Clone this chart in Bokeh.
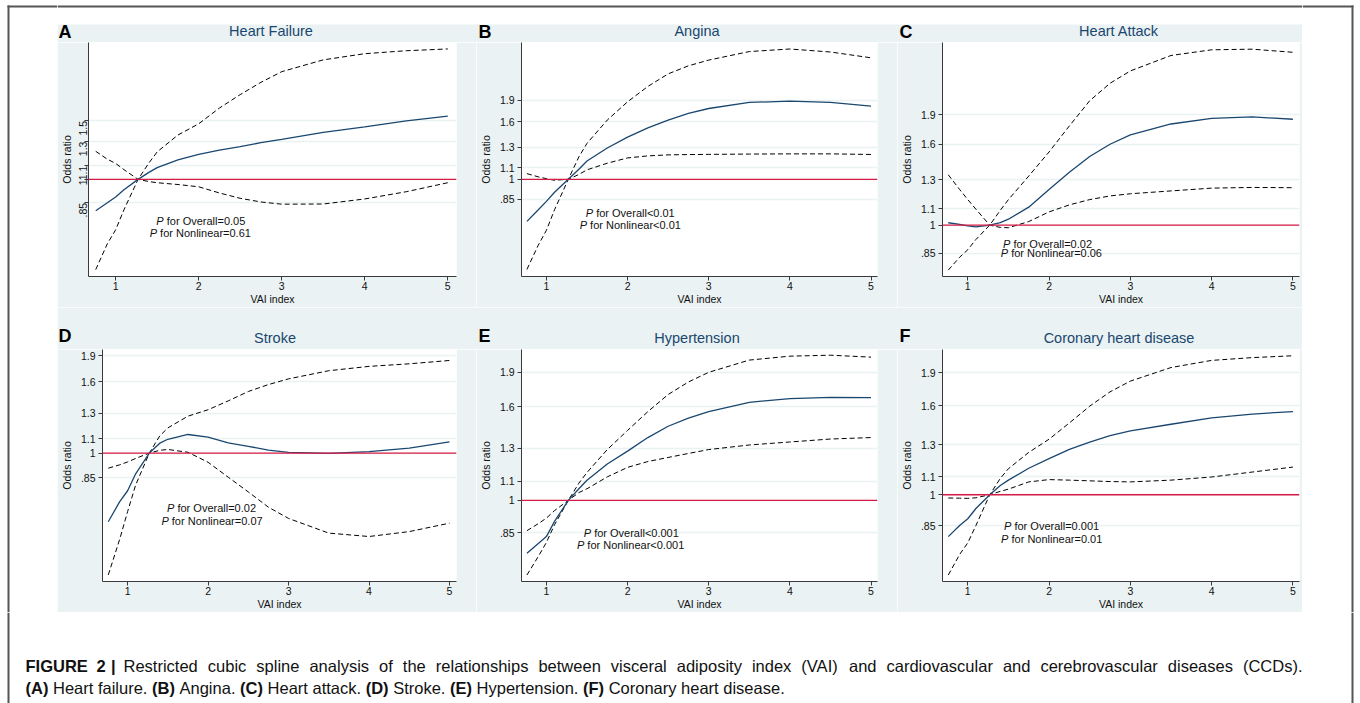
import math
from bokeh.plotting import figure
from bokeh.models import Range1d, FixedTicker, Span, Label, BoxAnnotation
from bokeh.layouts import row, column
from bokeh.embed import file_html
from bokeh.resources import INLINE
from bokeh.core.properties import value

# ---------------- data ----------------
vai = [0.76, 0.9, 1.0, 1.1, 1.27, 1.4, 1.5, 1.75, 2.0, 2.25, 2.5, 2.75, 3.0, 3.5, 4.0, 4.5, 5.0]

hf_or = [0.805, 0.85, 0.885, 0.93, 1.0, 1.05, 1.085, 1.145, 1.19, 1.225, 1.255, 1.29, 1.32, 1.385, 1.44, 1.50, 1.55]
hf_ci1 = [1.215, 1.15, 1.117, 1.07, 1.0, 0.985, 0.977, 0.965, 0.95, 0.91, 0.877, 0.855, 0.842, 0.843, 0.873, 0.918, 0.977]
hf_ci2 = [0.535, 0.64, 0.705, 0.81, 1.0, 1.12, 1.21, 1.36, 1.47, 1.64, 1.80, 1.96, 2.11, 2.29, 2.39, 2.44, 2.47]

an_or = [0.71, 0.78, 0.835, 0.9, 1.0, 1.085, 1.16, 1.29, 1.41, 1.52, 1.62, 1.71, 1.78, 1.87, 1.89, 1.87, 1.815]
an_ci1 = [1.047, 1.02, 1.005, 0.992, 1.0, 1.04, 1.08, 1.14, 1.19, 1.21, 1.22, 1.223, 1.225, 1.228, 1.23, 1.23, 1.224]
an_ci2 = [0.48, 0.585, 0.66, 0.78, 1.0, 1.20, 1.34, 1.62, 1.88, 2.13, 2.36, 2.52, 2.64, 2.83, 2.89, 2.82, 2.69]

ha_or = [1.014, 1.004, 0.996, 0.99, 1.0, 1.015, 1.035, 1.11, 1.23, 1.36, 1.49, 1.60, 1.69, 1.80, 1.86, 1.875, 1.85]
ha_ci1 = [1.34, 1.23, 1.16, 1.097, 1.0, 0.987, 0.985, 1.021, 1.08, 1.125, 1.16, 1.185, 1.20, 1.22, 1.24, 1.245, 1.243]
ha_ci2 = [0.77, 0.83, 0.867, 0.92, 1.0, 1.09, 1.16, 1.33, 1.53, 1.78, 2.06, 2.28, 2.45, 2.68, 2.77, 2.78, 2.73]

st_or = [0.636, 0.725, 0.78, 0.872, 1.0, 1.067, 1.095, 1.13, 1.11, 1.07, 1.045, 1.02, 1.004, 0.998, 1.009, 1.033, 1.077]
st_ci1 = [0.905, 0.925, 0.943, 0.965, 1.0, 1.018, 1.024, 1.005, 0.941, 0.853, 0.774, 0.70, 0.65, 0.59, 0.577, 0.596, 0.63]
st_ci2 = [0.448, 0.565, 0.68, 0.81, 1.0, 1.12, 1.18, 1.275, 1.33, 1.41, 1.50, 1.57, 1.63, 1.72, 1.77, 1.80, 1.84]

hy_or = [0.767, 0.806, 0.834, 0.9, 1.0, 1.06, 1.106, 1.20, 1.28, 1.37, 1.45, 1.51, 1.56, 1.635, 1.665, 1.676, 1.673]
hy_ci1 = [0.859, 0.89, 0.915, 0.95, 1.0, 1.04, 1.06, 1.125, 1.18, 1.215, 1.24, 1.265, 1.29, 1.32, 1.34, 1.36, 1.37]
hy_ci2 = [0.688, 0.755, 0.81, 0.885, 1.0, 1.09, 1.15, 1.29, 1.42, 1.56, 1.70, 1.81, 1.90, 2.02, 2.06, 2.07, 2.05]

ch_or = [0.802, 0.85, 0.881, 0.93, 1.0, 1.05, 1.08, 1.15, 1.21, 1.27, 1.32, 1.365, 1.40, 1.45, 1.50, 1.53, 1.55]
ch_ci1 = [0.983, 0.982, 0.981, 0.984, 1.0, 1.018, 1.03, 1.07, 1.083, 1.08, 1.076, 1.072, 1.07, 1.08, 1.098, 1.127, 1.157]
ch_ci2 = [0.655, 0.73, 0.776, 0.85, 1.0, 1.09, 1.147, 1.25, 1.34, 1.46, 1.595, 1.72, 1.82, 1.955, 2.03, 2.06, 2.08]

x_ticks = [1, 2, 3, 4, 5]
y_ticks_a = [0.85, 1, 1.1, 1.3, 1.5]
y_labels_a = [".85", "1", "1.1", "1.3", "1.5"]
y_ticks = [0.85, 1, 1.1, 1.3, 1.6, 1.9]
y_labels = [".85", "1", "1.1", "1.3", "1.6", "1.9"]

titles = ["Heart Failure", "Angina", "Heart Attack", "Stroke", "Hypertension", "Coronary heart disease"]
letters = ["A", "B", "C", "D", "E", "F"]
p_overall = ["=0.05", "<0.01", "=0.02", "=0.02", "<0.001", "=0.001"]
p_nonlin = ["=0.61", "<0.01", "=0.06", "=0.07", "<0.001", "=0.01"]

caption_head = ["FIGURE", "2", "|"]
caption_line1 = "Restricted cubic spline analysis of the relationships between visceral adiposity index (VAI) and cardiovascular and cerebrovascular diseases (CCDs)."
caption_line2 = ["(A)", "Heart failure.", "(B)", "Angina.", "(C)", "Heart attack.", "(D)", "Stroke.",
                 "(E)", "Hypertension.", "(F)", "Coronary heart disease."]

# ---------------- style / geometry ----------------
BG = "#EAF2F3"
NAVY = "#1A476F"
RED = "#D81B45"
FONT = "Liberation Sans"
AXC = "#3a3a3a"
EDGE = "#555555"
PAGE_W = 1360

series = [(hf_or, hf_ci1, hf_ci2), (an_or, an_ci1, an_ci2), (ha_or, ha_ci1, ha_ci2),
          (st_or, st_ci1, st_ci2), (hy_or, hy_ci1, hy_ci2), (ch_or, ch_ci1, ch_ci2)]

GRID_X0 = 57
GRID_W = 1245
FRAME_H = 235
col_w = [419, 421, 405]
col_x0 = [0, 419, 840]
geo = [
    dict(l=28, r=20, b=30, xr=(0.673, 5.105), yr=(0.51, 2.583)),
    dict(l=40, r=20, b=30, xr=(0.693, 5.08), yr=(0.453, 3.047)),
    dict(l=41, r=3, b=30, xr=(0.689, 5.081), yr=(0.742, 2.89)),
    dict(l=36, r=20, b=28, xr=(0.688, 5.087), yr=(0.429, 1.978)),
    dict(l=40, r=20, b=28, xr=(0.693, 5.08), yr=(0.666, 2.13)),
    dict(l=41, r=3, b=28, xr=(0.689, 5.081), yr=(0.633, 2.15)),
]
letter_x = [1, 421, 842]
ptext_pos = [((1.49, 0.75), (1.41, 0.689)), ((1.485, 0.76), (1.41, 0.687)),
             ((1.434, 0.898), (1.406, 0.85)), ((1.49, 0.697), (1.42, 0.639)),
             ((1.46, 0.848), (1.376, 0.799)), ((1.446, 0.848), (1.41, 0.791))]

# Arial / Liberation Sans advance widths (1/1000 em) for caption layout
REG_W = {' ': 278, '(': 333, ')': 333, '.': 278, '|': 260, 'A': 667, 'B': 667, 'C': 722, 'D': 722,
         'E': 667, 'F': 611, 'H': 722, 'I': 278, 'R': 722, 'S': 667, 'V': 667, 'a': 556, 'b': 556,
         'c': 500, 'd': 556, 'e': 556, 'f': 278, 'g': 556, 'h': 556, 'i': 222, 'k': 500, 'l': 222,
         'n': 556, 'o': 556, 'p': 556, 'r': 333, 's': 500, 't': 278, 'u': 556, 'v': 500, 'w': 722,
         'x': 500, 'y': 500}
BOLD_W = {' ': 278, '(': 333, ')': 333, '|': 280, '2': 556, 'A': 722, 'B': 722, 'C': 722, 'D': 722,
          'E': 667, 'F': 611, 'G': 778, 'I': 278, 'R': 722, 'U': 722}


def text_w(s, bold, size):
    tab = BOLD_W if bold else REG_W
    return sum(tab.get(ch, 556) for ch in s) * size / 1000.0


def make_panel(i):
    g = geo[i]
    c = i % 3
    p = figure(width=col_w[c], height=FRAME_H + g["b"], x_range=Range1d(*g["xr"]),
               y_range=Range1d(*g["yr"]), y_axis_type="log", output_backend="svg",
               toolbar_location=None, title=None,
               min_border_left=g["l"], min_border_right=g["r"], min_border_top=0,
               min_border_bottom=g["b"])
    p.background_fill_color = "white"
    p.border_fill_color = BG
    p.outline_line_color = None
    p.xgrid.visible = False

    yt = y_ticks_a if i == 0 else y_ticks
    yl = y_labels_a if i == 0 else y_labels
    p.xaxis.ticker = FixedTicker(ticks=x_ticks)
    p.yaxis.ticker = FixedTicker(ticks=yt)
    p.yaxis.major_label_overrides = {t: s for t, s in zip(yt, yl)}
    p.ygrid.grid_line_color = BG
    p.ygrid.grid_line_width = 1.6

    for ax in (p.xaxis, p.yaxis):
        ax.axis_line_color = AXC
        ax.axis_line_width = 1
        ax.major_tick_line_color = AXC
        ax.major_tick_out = 4
        ax.major_tick_in = 0
        ax.minor_tick_line_color = None
        ax.major_label_text_font = FONT
        ax.major_label_text_font_size = "10.5px"
        ax.major_label_text_color = "#111111"
        ax.axis_label_text_font = FONT
        ax.axis_label_text_font_size = "10.5px"
        ax.axis_label_text_font_style = "normal"
        ax.axis_label_text_color = "#111111"
    p.xaxis.axis_label = "VAI index"
    p.xaxis.major_label_standoff = 1
    p.xaxis.axis_label_standoff = 0
    p.yaxis.axis_label = "Odds ratio"
    if i == 0:
        p.yaxis.major_label_orientation = math.pi / 2
        p.yaxis.major_label_standoff = 1
        p.yaxis.axis_label_standoff = 0
    else:
        p.yaxis.major_label_standoff = 3
        p.yaxis.axis_label_standoff = 5

    p.add_layout(Span(location=1, dimension="width", line_color=RED, line_width=1.3))

    orv, c1, c2 = series[i]
    p.line(vai, c1, line_color="black", line_width=1, line_dash="5 3")
    p.line(vai, c2, line_color="black", line_width=1, line_dash="5 3")
    p.line(vai, orv, line_color=NAVY, line_width=1.3)

    for (px, py), rest in zip(ptext_pos[i], ["for Overall" + p_overall[i], "for Nonlinear" + p_nonlin[i]]):
        p.add_layout(Label(x=px, y=py, text="P", text_align="left", text_baseline="middle",
                           text_font=FONT, text_font_size="11px", text_font_style="italic",
                           text_color="#111111"))
        p.add_layout(Label(x=px, y=py, x_offset=10.4, text=rest, text_align="left",
                           text_baseline="middle", text_font=FONT, text_font_size="11px",
                           text_color="#111111"))
    return p


def plain_fig(w, h, fill):
    f = figure(width=w, height=h, x_range=Range1d(0, w), y_range=Range1d(h, 0),
               output_backend="svg", toolbar_location=None, title=None, min_border=0,
               x_axis_location=None, y_axis_location=None)
    f.grid.visible = False
    f.outline_line_color = None
    f.background_fill_color = fill
    f.border_fill_color = fill
    return f


def edge_box(f, left, right, top, bottom):
    f.add_layout(BoxAnnotation(left=left, right=right, top=top, bottom=bottom, fill_color=EDGE,
                               fill_alpha=1, line_color=None))


TOP_LINE = (5, 7)


def header(h, gray_from, row_idx, title_y, letter_y, top_line=False):
    f = plain_fig(GRID_W, h, "white")
    f.add_layout(BoxAnnotation(top=gray_from, bottom=h, left=0, right=GRID_W, fill_color=BG,
                               fill_alpha=1, line_color=None, level="underlay"))
    if top_line:
        edge_box(f, 0, GRID_W, TOP_LINE[0], TOP_LINE[1])
    for c in range(3):
        i = row_idx * 3 + c
        g = geo[i]
        frame_l = col_x0[c] + g["l"]
        frame_r = col_x0[c] + col_w[c] - g["r"]
        f.text(x=[(frame_l + frame_r) / 2], y=[title_y], text=[titles[i]], text_font=value(FONT),
               text_font_size=value("14.5px"), text_color=NAVY, text_align="center",
               text_baseline="middle")
        f.text(x=[letter_x[c]], y=[letter_y], text=[letters[i]], text_font=value(FONT),
               text_font_size=value("18px"), text_font_style=value("bold"), text_color="black",
               text_align="left", text_baseline="middle")
    return f


panels = [make_panel(i) for i in range(6)]
grid = column(header(42, 24, 0, 30, 31.5, top_line=True), row(*panels[:3], spacing=0),
              header(42, 0, 1, 30.5, 28.5), row(*panels[3:], spacing=0), spacing=0)

GRID_H = 42 + FRAME_H + 30 + 42 + FRAME_H + 28

LEFT_X = 8
RIGHT_X = 1352

left_strip = plain_fig(GRID_X0, GRID_H, "white")
edge_box(left_strip, LEFT_X - 1, GRID_X0, TOP_LINE[0], TOP_LINE[1])
edge_box(left_strip, LEFT_X - 1, LEFT_X + 1, TOP_LINE[0], GRID_H)
right_w = PAGE_W - GRID_X0 - GRID_W
right_strip = plain_fig(right_w, GRID_H, "white")
rx = RIGHT_X - GRID_X0 - GRID_W
edge_box(right_strip, 0, rx + 1, TOP_LINE[0], TOP_LINE[1])
edge_box(right_strip, rx - 1, rx + 1, TOP_LINE[0], GRID_H)

# ---------------- caption ----------------
CAP_H = 91
CAP_SIZE = 16.5
cap = plain_fig(PAGE_W, CAP_H, "white")
edge_box(cap, LEFT_X - 1, LEFT_X + 1, 0, CAP_H)
edge_box(cap, RIGHT_X - 1, RIGHT_X + 1, 0, CAP_H)


def cap_text(x, y, t, bold):
    cap.text(x=[x], y=[y], text=[t], text_font=value(FONT), text_font_size=value(f"{CAP_SIZE}px"),
             text_font_style=value("bold" if bold else "normal"), text_baseline="alphabetic",
             text_align="left", text_color="#111111")


# line 1: bold head, then justified words
BASE1, BASE2 = 53, 75
cap_text(25, BASE1, caption_head[0], True)
cap_text(96, BASE1, caption_head[1], True)
cap_text(110.5, BASE1, caption_head[2], True)
words = caption_line1.split(" ")
x_start, x_end = 123.0, 1302.0
wsum = sum(text_w(w_, False, CAP_SIZE) for w_ in words)
gap = (x_end - x_start - wsum) / (len(words) - 1)
x = x_start
for w_ in words:
    cap_text(x, BASE1, w_, False)
    x += text_w(w_, False, CAP_SIZE) + gap

# line 2: left aligned, alternating bold labels
x = 25.0
space = text_w(" ", False, CAP_SIZE)
for j, seg in enumerate(caption_line2):
    bold = (j % 2 == 0)
    cap_text(x, BASE2, seg, bold)
    x += text_w(seg, bold, CAP_SIZE) + space

middle = row(left_strip, grid, right_strip, spacing=0)
page = column(middle, cap, spacing=0)

open("out.html", "w").write(file_html(page, INLINE))
